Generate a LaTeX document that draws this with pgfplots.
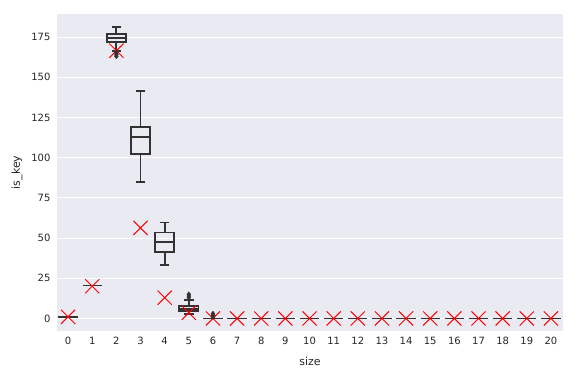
\documentclass[border=0pt]{standalone}
\usepackage{pgfplots}
\pgfplotsset{compat=1.18}
\usepgfplotslibrary{statistics}
\usepackage{fontspec}
\setmainfont{DejaVu Sans}
\definecolor{sbbg}{HTML}{EAEAF2}
\definecolor{sbtext}{HTML}{262626}
\definecolor{boxc}{HTML}{333333}

\pgfplotsset{
  sbbox/.style={boxplot prepared={#1, draw direction=y, box extend=0.8, whisker extend=0.4,
      every box/.style={draw=boxc, line width=1.8pt},
      every whisker/.style={draw=boxc, line width=1.8pt},
      every median/.style={draw=boxc, line width=1.8pt}},
    draw=boxc, line width=1.8pt, solid,
    mark=diamond*, mark size=2.6pt,
    mark options={fill=boxc, draw=boxc, line width=0.3pt}},
  flatline/.style={draw=boxc, line width=1.8pt, mark=none},
  fliers/.style={only marks, mark=diamond*, mark size=2.6pt,
    mark options={fill=boxc, draw=boxc, line width=0.3pt}},
}

\begin{document}
\begin{tikzpicture}
\begin{axis}[
    scale only axis, width=506pt, height=317pt,
    xmin=-0.46, xmax=20.5, ymin=-7.8, ymax=189.3,
    axis background/.style={fill=sbbg},
    axis line style={draw=none},
    xtick={0,...,20}, ytick={0,25,...,175},
    major tick length=0pt,
    ymajorgrids, grid style={white, line width=0.9pt},
    tick label style={font=\fontsize{10}{12}\selectfont, text=sbtext},
    /pgf/number format/assume math mode=true,
    xticklabel style={yshift=-3pt},
    yticklabel style={xshift=-3pt},
    label style={font=\fontsize{11}{13}\selectfont, text=sbtext},
    xlabel={size}, ylabel={is\_key},
    xlabel style={yshift=-5pt},
    ylabel style={yshift=2pt},
]
% red markers
\addplot[only marks, mark=x, mark size=10pt, red, line width=1pt] coordinates {
    (0,1) (1,20) (2,166.5) (3,56.3) (4,12.9) (5,3.5) (6,0) (7,0) (8,0) (9,0) (10,0)
    (11,0) (12,0) (13,0) (14,0) (15,0) (16,0) (17,0) (18,0) (19,0) (20,0)
};
% degenerate boxes (all quartiles equal): a single line
\addplot[flatline] coordinates {(-0.4,1) (0.4,1)};
\addplot[flatline] coordinates {(0.6,20.5) (1.4,20.5)};
\addplot[flatline] coordinates {(5.6,0) (6.4,0)};
\addplot[fliers] coordinates {(6,1) (6,2) (6,3)};
\addplot[flatline] coordinates {(6.6,0) (7.4,0)};
\addplot[flatline] coordinates {(7.6,0) (8.4,0)};
\addplot[flatline] coordinates {(8.6,0) (9.4,0)};
\addplot[flatline] coordinates {(9.6,0) (10.4,0)};
\addplot[flatline] coordinates {(10.6,0) (11.4,0)};
\addplot[flatline] coordinates {(11.6,0) (12.4,0)};
\addplot[flatline] coordinates {(12.6,0) (13.4,0)};
\addplot[flatline] coordinates {(13.6,0) (14.4,0)};
\addplot[flatline] coordinates {(14.6,0) (15.4,0)};
\addplot[flatline] coordinates {(15.6,0) (16.4,0)};
\addplot[flatline] coordinates {(16.6,0) (17.4,0)};
\addplot[flatline] coordinates {(17.6,0) (18.4,0)};
\addplot[flatline] coordinates {(18.6,0) (19.4,0)};
\addplot[flatline] coordinates {(19.6,0) (20.4,0)};
% boxes
\addplot[sbbox={draw position=2, median=174.2, upper quartile=176.7, lower quartile=171.9,
    upper whisker=181.4, lower whisker=166.5}] coordinates {(0,165) (0,164) (0,163)};
\addplot[sbbox={draw position=3, median=112.8, upper quartile=119, lower quartile=102.4,
    upper whisker=141.5, lower whisker=84.6}] coordinates {};
\addplot[sbbox={draw position=4, median=47.3, upper quartile=53.5, lower quartile=41.5,
    upper whisker=59.7, lower whisker=33}] coordinates {};
\addplot[sbbox={draw position=5, median=6, upper quartile=7.5, lower quartile=4.5,
    upper whisker=11.5, lower whisker=3}] coordinates {(0,13) (0,14) (0,15)};
\end{axis}
\path (current axis.south west) ++(-57pt,-43pt);
\path (current axis.north east) ++(17pt,14pt);
\end{tikzpicture}
\end{document}
